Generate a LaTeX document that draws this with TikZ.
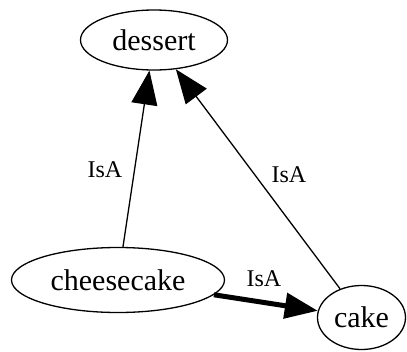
\documentclass[tikz,border=0pt]{standalone}
\usepackage{fontspec}
\setmainfont{Liberation Serif}
\usetikzlibrary{shapes.geometric,arrows.meta}
\begin{document}
\begin{tikzpicture}[x=1pt,y=-1pt,
  ent/.style={draw, ellipse, line width=1.3pt, inner sep=0pt, font=\fontsize{30}{36}\selectfont},
  lbl/.style={font=\fontsize{24}{28}\selectfont, inner sep=0pt},
  isa/.style={line width=1.3pt, -{Triangle[length=34pt,width=26pt]}},
  isabold/.style={line width=5pt, -{Triangle[length=33pt,width=25pt]}}]
\useasboundingbox (0,0) rectangle (407,351);
\node[ent, minimum width=147pt, minimum height=60pt] (dessert) at (154,40) {dessert};
\node[ent, minimum width=213pt, minimum height=65pt] (cheesecake) at (118,280) {cheesecake};
\node[ent, minimum width=88pt, minimum height=64pt] (cake) at (361.5,317.5) {cake};
\draw[isa] (cheesecake) -- (dessert);
\draw[isa] (cake) -- (dessert);
\draw[isabold] (cheesecake) -- (cake);
\node[lbl] (l1) at (105,170) {IsA};
\node[lbl] (l2) at (289,175) {IsA};
\node[lbl] (l3) at (264,279) {IsA};
\end{tikzpicture}
\end{document}
